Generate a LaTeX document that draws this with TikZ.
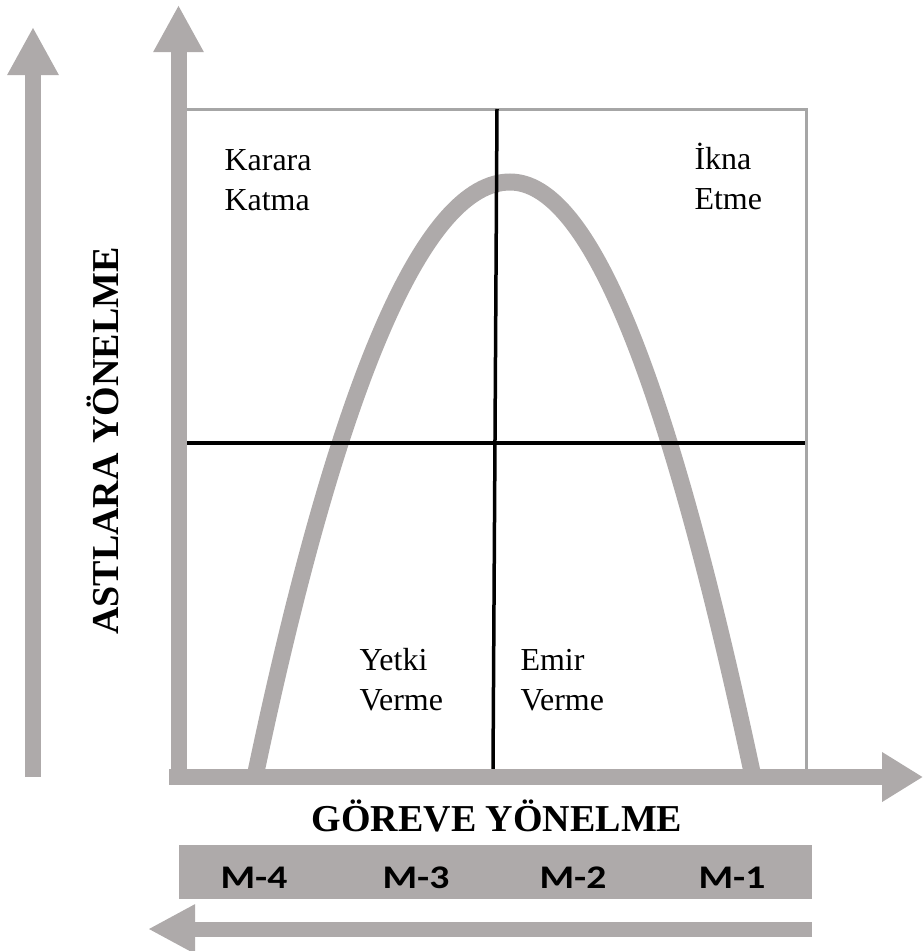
\documentclass[tikz,border=0pt]{standalone}
\usepackage{fontspec}
\setmainfont{Liberation Serif}
\newfontfamily\calibri{Carlito}
\usetikzlibrary{arrows.meta}
\definecolor{axisgray}{HTML}{AEAAAA}
\definecolor{framegray}{HTML}{A6A6A6}

\begin{document}
\begin{tikzpicture}[x=1pt,y=-1pt,
  axis/.style={axisgray,line width=16pt},
  quad/.style={align=left,anchor=base west,font=\fontsize{32}{40}\selectfont},
  axtitle/.style={font=\fontsize{38}{40}\selectfont\bfseries},
  mlabel/.style={anchor=base,xscale=1.2,font=\calibri\fontsize{33}{36}\selectfont\bfseries}]
  \useasboundingbox (0,0) rectangle (923,951);
  % ends of the axes
  \coordinate (corner) at (169,777);
  \coordinate (xtip) at (923,777);
  \coordinate (vbot) at (178.5,785);
  \coordinate (ytip) at (178.5,5);
  \coordinate (lbot) at (33,777);
  \coordinate (ltip) at (33,27);
  \coordinate (bstart) at (812,929);
  \coordinate (btip) at (148,929);
  % frame and quadrants
  \draw[framegray,line width=3pt] (187,109) -- (806,109) -- (806,769);
  \draw[axisgray,line width=17pt] (256,772) .. controls (339,378) and (425,182) .. (510,182)
    .. controls (589,182) and (667,374) .. (752,772);
  \draw[line width=3.5pt] (497,109) -- (493,769);
  \draw[line width=3.5pt] (187,443) -- (805,443);
  % arrows
  \draw[axis,-{Triangle[length=47pt,width=47pt]}] (vbot) -- (ytip);
  \draw[axis,-{Triangle[length=41pt,width=47pt]}] (corner) -- (xtip);
  \draw[axis,-{Triangle[length=48pt,width=48pt]}] (lbot) -- (ltip);
  \draw[axis,line width=15pt,-{Triangle[length=47pt,width=46pt]}] (bstart) -- (btip);
  % texts (anchored at the last line)
  \node[quad] (kk) at (221,210) {Karara\\Katma};
  \node[quad] (ie) at (691,209) {İkna\\Etme};
  \node[quad] (yv) at (356,710) {Yetki\\Verme};
  \node[quad] (ev) at (517,710) {Emir\\Verme};
  \node[axtitle,anchor=base] (gy) at (497,831) {GÖREVE YÖNELME};
  \node[axtitle,anchor=base,rotate=90] (ay) at (118,441) {ASTLARA YÖNELME};
  % M band
  \fill[axisgray] (179,845) rectangle (812,899);
  \node[mlabel] (m4) at (254,888) {M-4};
  \node[mlabel] (m3) at (416,888) {M-3};
  \node[mlabel] (m2) at (573,888) {M-2};
  \node[mlabel] (m1) at (732,888) {M-1};
\end{tikzpicture}
\end{document}
